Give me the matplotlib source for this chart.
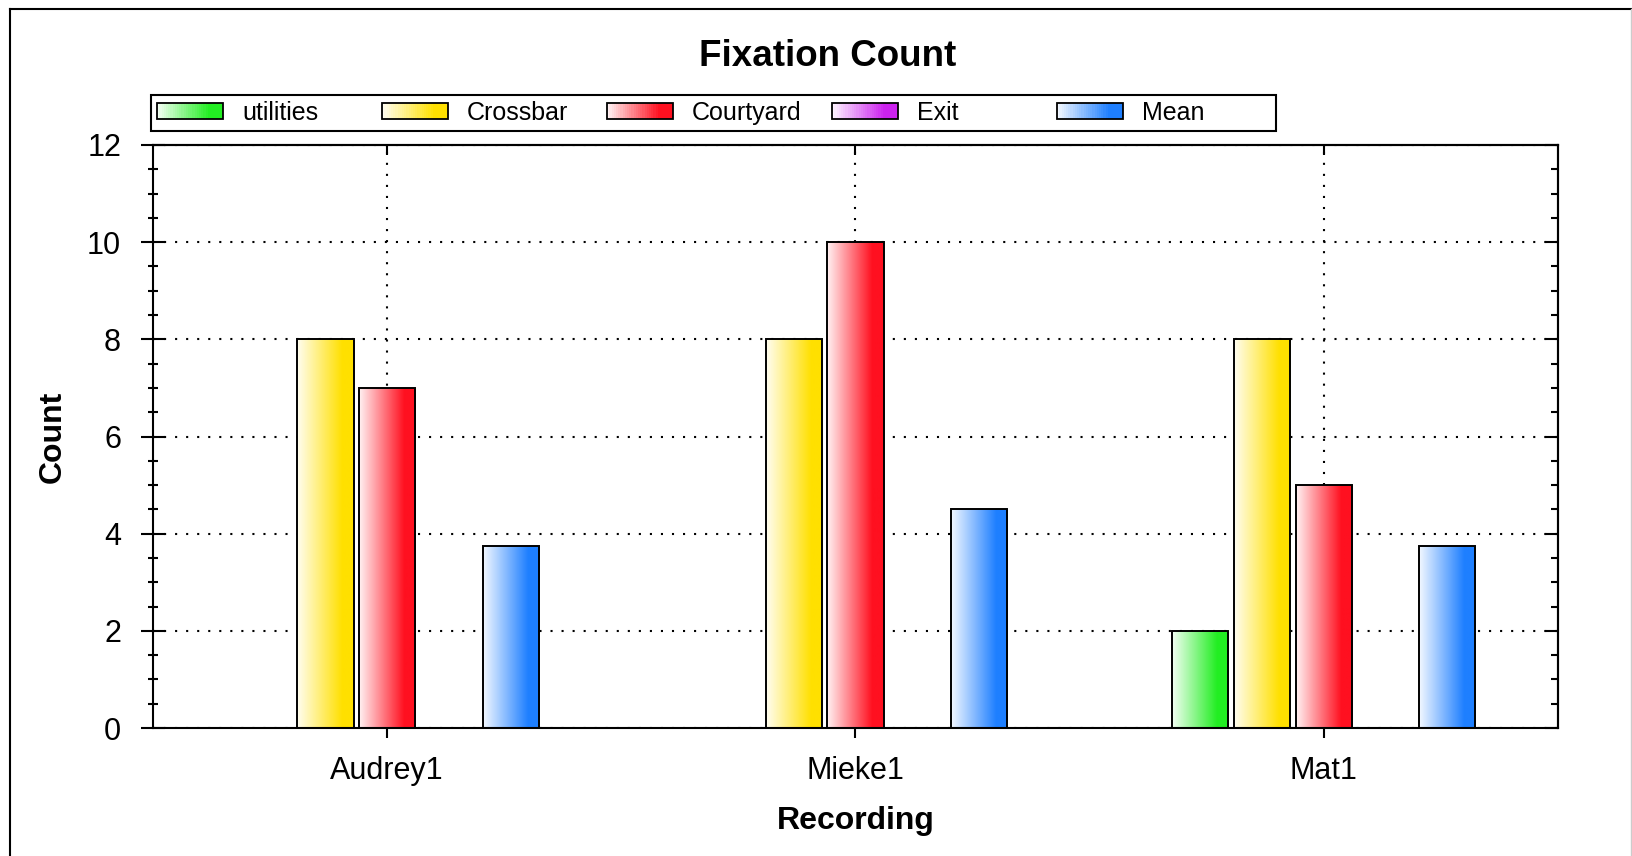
import numpy as np
import matplotlib
matplotlib.use("Agg")
import matplotlib.pyplot as plt
from matplotlib.colors import to_rgb
from matplotlib.lines import Line2D
from matplotlib.patches import Rectangle
from matplotlib.legend_handler import HandlerBase

plt.rcParams["font.family"] = ["Liberation Sans", "DejaVu Sans"]

# data
recordings = ["Audrey1", "Mieke1", "Mat1"]
series_names = ["utilities", "Crossbar", "Courtyard", "Exit", "Mean"]
utilities = [0, 0, 2]
crossbar = [8, 8, 8]
courtyard = [7, 10, 5]
exit_area = [0, 0, 0]
mean = [3.75, 4.5, 3.75]
series_values = [utilities, crossbar, courtyard, exit_area, mean]
series_colors = ["#22ee22", "#ffe000", "#ff1020", "#cc22ee", "#1e7fff"]
y_ticks = [0, 2, 4, 6, 8, 10, 12]

W, H = 1633, 856


def gradient_rgb(color, n=64):
    # white on the left side, full colour on the right
    rgb = np.array(to_rgb(color))
    t = np.linspace(0, 1, n)
    s = 0.06 + 0.94 * np.clip(t / 0.8, 0, 1)
    return (1 - s)[:, None] + s[:, None] * rgb


class GradientHandler(HandlerBase):
    def create_artists(self, legend, orig_handle, xdescent, ydescent,
                       width, height, fontsize, trans):
        cols = gradient_rgb(orig_handle.get_facecolor(), 30)
        n = len(cols)
        arts = []
        for k, c in enumerate(cols):
            arts.append(Rectangle((-xdescent + width * k / n, -ydescent),
                                  width / n * 1.1, height, facecolor=c,
                                  edgecolor="none", transform=trans))
        arts.append(Rectangle((-xdescent, -ydescent), width, height,
                              facecolor="none", edgecolor="black", lw=1.3,
                              transform=trans))
        return arts


fig = plt.figure(figsize=(W / 100, H / 100), dpi=100)
ax = fig.add_axes([153 / W, 1 - 728 / H, 1405 / W, 583 / H])

x = np.arange(len(recordings))
slot = 0.1318
bar_w = 0.12
for i, (vals, col) in enumerate(zip(series_values, series_colors)):
    bars = ax.bar(x + (i - 2) * slot, vals, width=bar_w, facecolor="none",
                  edgecolor="black", linewidth=1.4, zorder=3)
    grad = gradient_rgb(col)[None, :, :]
    for rect in bars:
        h = rect.get_height()
        if h <= 0:
            continue
        x0 = rect.get_x()
        im = ax.imshow(grad, extent=[x0, x0 + rect.get_width(), 0, h],
                       aspect="auto", interpolation="bilinear", zorder=2.5)
        im.set_clip_path(rect)

ax.set_xlim(-0.5, len(recordings) - 0.5)
ax.set_ylim(0, 12)
ax.set_aspect("auto")

ax.set_xticks(x)
ax.set_xticklabels(recordings)
ax.set_yticks(y_ticks)
ax.set_yticks(np.arange(0, 12.5, 0.5), minor=True)
ax.tick_params(axis="y", which="major", direction="inout", length=17,
               width=1.5, labelsize=22, pad=14.5)
ax.tick_params(axis="y", which="minor", direction="inout", length=7.5,
               width=1.5)
ax.tick_params(axis="x", which="major", direction="out", length=7,
               width=1.5, labelsize=22, pad=13)
ax.tick_params(axis="x", which="minor", bottom=False)

ax.set_axisbelow(True)
ax.grid(True, which="major", color="black", linestyle=(0, (1, 4.3)),
        linewidth=1.5)
for sp in ax.spines.values():
    sp.set_linewidth(1.5)

sec_y = ax.secondary_yaxis("right")
sec_y.set_yticks(y_ticks)
sec_y.set_yticks(np.arange(0, 12.5, 0.5), minor=True)
sec_y.tick_params(which="major", direction="in", length=9.5, width=1.5,
                  labelright=False)
sec_y.tick_params(which="minor", direction="in", length=5, width=1.5)
sec_y.spines["right"].set_linewidth(1.5)

sec_x = ax.secondary_xaxis("top")
sec_x.set_xticks(x)
sec_x.tick_params(direction="in", length=7, width=1.5, labeltop=False)
sec_x.spines["top"].set_linewidth(1.5)

ax.set_ylabel("Count", fontsize=23, fontweight="bold")
ax.yaxis.set_label_coords(-0.0606, 0.5)
ax.set_xlabel("Recording", fontsize=23, fontweight="bold", va="top")
ax.xaxis.set_label_coords(0.5, -0.134)
ax.set_title("Fixation Count", fontsize=26.5, fontweight="bold", pad=0,
             x=(828 - 153) / 1405, y=(728 - 65.6) / 583)

handles = [Rectangle((0, 0), 1, 1, facecolor=c) for c in series_colors]
leg = ax.legend(handles, series_names, ncol=5, mode="expand", loc="center",
                bbox_to_anchor=(151 / W, 1 - 129 / H, 1125 / W, 32 / H),
                bbox_transform=fig.transFigure, fontsize=18,
                handlelength=2.64, handleheight=0.6, handletextpad=0.75,
                borderpad=0.25, borderaxespad=0, fancybox=False,
                framealpha=1, edgecolor="black",
                handler_map={Rectangle: GradientHandler()})
leg.get_frame().set_linewidth(1.5)
# columns of the original legend start at an even pitch
leg._legend_box.align = "left"
cols_box = leg._legend_handle_box
cols_box.mode = "equal"
cols_box.set_width(1125)

# outer frame of the picture
fig.add_artist(Line2D([10 / W, 10 / W], [0, 1 - 9 / H], color="black",
                      lw=1.5, transform=fig.transFigure))
fig.add_artist(Line2D([10 / W, 1], [1 - 9 / H, 1 - 9 / H], color="black",
                      lw=1.5, transform=fig.transFigure))
fig.add_artist(Line2D([1631 / W, 1631 / W], [0, 1 - 9 / H], color="#cccccc",
                      lw=1.0, transform=fig.transFigure))

fig.savefig("out.png", dpi=100)
